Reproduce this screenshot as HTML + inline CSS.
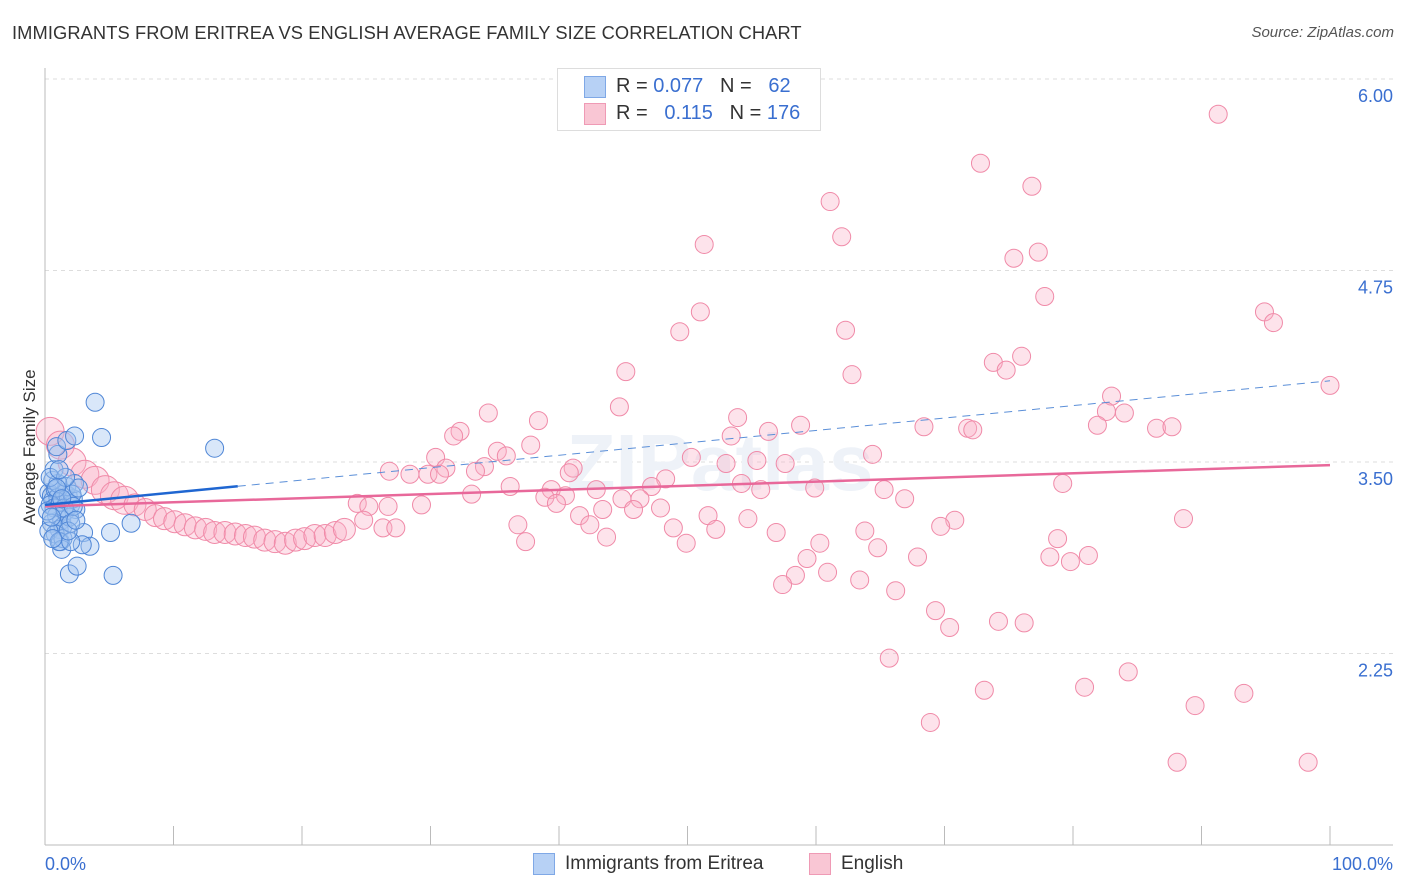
<!DOCTYPE html>
<html><head><meta charset="utf-8"><style>
body{margin:0;background:#fff;font-family:"Liberation Sans",sans-serif}
#wrap{position:relative;width:1406px;height:892px;overflow:hidden}
.t{position:absolute;white-space:nowrap}
</style></head><body>
<div id="wrap">
<div class="t" style="left:12px;top:22px;font-size:18.3px;color:#333;letter-spacing:0.1px">IMMIGRANTS FROM ERITREA VS ENGLISH AVERAGE FAMILY SIZE CORRELATION CHART</div>
<div class="t" style="right:12px;top:24px;font-size:15px;color:#555;font-style:italic">Source: ZipAtlas.com</div>
<div class="t" style="left:-40px;top:445px;width:140px;text-align:center;transform:rotate(-90deg);font-size:17px;color:#333">Average Family Size</div>
<svg id="plot" width="1406" height="892" style="position:absolute;left:0;top:0"></svg>
<div style="position:absolute;left:557px;top:68px;width:262px;height:61px;border:1px solid #ddd;background:#fff;font-size:20px">
 <div style="position:absolute;left:26px;top:7px;width:20px;height:20px;background:#b7d1f5;border:1px solid #7fa8e6"></div>
 <div class="t" style="left:58px;top:6px;color:#333">R = <span style="color:#3a6fd0">0.077</span>&nbsp;&nbsp;&nbsp;N = &nbsp;&nbsp;<span style="color:#3a6fd0">62</span></div>
 <div style="position:absolute;left:26px;top:34px;width:20px;height:20px;background:#f9c6d4;border:1px solid #ef9ab5"></div>
 <div class="t" style="left:58px;top:33px;color:#333">R = &nbsp;&nbsp;<span style="color:#3a6fd0">0.115</span>&nbsp;&nbsp;&nbsp;N = <span style="color:#3a6fd0">176</span></div>
</div>
<div style="position:absolute;left:533px;top:853px;width:20px;height:20px;background:#b7d1f5;border:1px solid #7fa8e6"></div>
<div class="t" style="left:565px;top:853px;font-size:19px;color:#333">Immigrants from Eritrea</div>
<div style="position:absolute;left:809px;top:853px;width:20px;height:20px;background:#f9c6d4;border:1px solid #ef9ab5"></div>
<div class="t" style="left:841px;top:853px;font-size:19px;color:#333">English</div>
</div>
<script>
const yTicks=[2.25,3.5,4.75,6.0];
const yTickLabels=["2.25","3.50","4.75","6.00"];
const xTickLabels=["0.0%","100.0%"];
const blueX=[0.3,0.5,0.6,0.8,1.0,0.4,0.7,1.2,1.5,1.8,2.0,0.9,1.3,1.6,2.2,2.4,0.5,1.1,1.4,0.8,1.7,2.3,0.6,1.0,1.9,0.3,1.2,1.4,2.1,0.7,1.0,0.9,1.7,2.3,4.4,3.9,13.2,5.1,3.0,6.7,5.3,1.9,2.5,3.5,2.9,1.3,1.1,2.0,0.4,1.5,2.0,2.6,1.8,0.2,0.6,2.2,1.6,0.9,1.3,2.4,0.5,1.1];
const blueY=[3.30,3.28,3.25,3.32,3.27,3.22,3.20,3.24,3.30,3.28,3.22,3.15,3.12,3.18,3.26,3.19,3.10,3.06,3.08,3.03,3.34,3.36,3.38,3.36,3.14,3.05,2.98,3.00,3.29,3.45,3.55,3.60,3.64,3.67,3.66,3.89,3.59,3.04,3.04,3.10,2.76,2.77,2.82,2.95,2.96,2.93,2.98,2.98,3.40,3.20,3.10,3.33,3.05,3.18,3.00,3.21,3.40,3.33,3.26,3.12,3.14,3.45];
const pinkDenseX=[0.4,1.2,2.1,3.1,3.9,4.7,5.4,6.2,7.0,7.8,8.6,9.3,10.1,10.9,11.7,12.5,13.2,14.0,14.8,15.6,16.3,17.1,17.9,18.7,19.5,20.2,21.0,21.8,22.6,23.3];
const pinkDenseY=[3.70,3.61,3.50,3.42,3.38,3.32,3.28,3.25,3.22,3.19,3.15,3.13,3.11,3.09,3.07,3.06,3.04,3.04,3.03,3.02,3.01,2.99,2.98,2.97,2.99,3.00,3.02,3.02,3.04,3.06];
const pinkX=[91.3,72.8,76.8,61.1,62.0,51.3,77.3,75.4,77.8,51.0,49.4,62.3,94.9,95.6,73.8,76.0,74.8,62.8,45.2,100,83.0,44.7,82.6,84.0,53.9,34.5,38.4,58.8,68.4,81.9,86.5,87.7,71.8,72.2,32.3,31.8,56.3,53.4,37.8,35.2,35.9,30.4,50.3,64.4,55.4,53.0,57.6,26.8,34.2,33.5,31.2,41.1,40.8,28.4,29.8,30.7,48.3,54.2,79.2,47.2,36.2,39.4,42.9,46.3,55.7,59.9,65.3,33.2,38.9,40.5,44.9,66.9,24.3,25.2,26.7,29.3,39.8,45.8,47.9,43.4,41.6,51.6,54.7,70.8,88.6,24.8,42.4,26.3,27.3,36.8,48.9,52.2,56.9,63.8,69.7,37.4,43.7,49.9,60.3,64.8,78.8,67.9,59.3,78.2,79.8,81.2,58.4,60.9,63.4,57.4,66.2,69.3,70.4,74.2,76.2,65.7,84.3,73.1,80.9,93.3,89.5,68.9,88.1,98.3];
const pinkY=[5.77,5.45,5.30,5.20,4.97,4.92,4.87,4.83,4.58,4.48,4.35,4.36,4.48,4.41,4.15,4.19,4.10,4.07,4.09,4.00,3.93,3.86,3.83,3.82,3.79,3.82,3.77,3.74,3.73,3.74,3.72,3.73,3.72,3.71,3.70,3.67,3.70,3.67,3.61,3.57,3.54,3.53,3.53,3.55,3.51,3.49,3.49,3.44,3.47,3.44,3.46,3.46,3.43,3.42,3.42,3.42,3.39,3.36,3.36,3.34,3.34,3.32,3.32,3.26,3.32,3.33,3.32,3.29,3.27,3.28,3.26,3.26,3.23,3.21,3.21,3.22,3.23,3.19,3.20,3.19,3.15,3.15,3.13,3.12,3.13,3.12,3.09,3.07,3.07,3.09,3.07,3.06,3.04,3.05,3.08,2.98,3.01,2.97,2.97,2.94,3.00,2.88,2.87,2.88,2.85,2.89,2.76,2.78,2.73,2.70,2.66,2.53,2.42,2.46,2.45,2.22,2.13,2.01,2.03,1.99,1.91,1.80,1.54,1.54];
const blueTrend=[3.22,4.03];
const pinkTrend=[3.21,3.48];
const blueSolidEnd=15;

const svg=document.getElementById('plot');
const NS='http://www.w3.org/2000/svg';
const X0=45,X1=1330,Ybase=845,PPU=153.2;
function sx(v){return X0+(X1-X0)*v/100;}
function sy(v){return Ybase-(v-1)*PPU;}
function mk(tag,attrs){const e=document.createElementNS(NS,tag);for(const k in attrs)e.setAttribute(k,attrs[k]);svg.appendChild(e);return e;}
yTicks.forEach((t,i)=>{
 const g=mk('line',{x1:45,x2:1393,y1:sy(t),y2:sy(t),stroke:'#ddd','stroke-dasharray':'4,4'});
 
 
 const tx=mk('text',{x:1393,y:sy(t)+23,'text-anchor':'end','font-size':18,fill:'#3a6fd0','font-family':'Liberation Sans, sans-serif'});
 tx.textContent=yTickLabels[i];
 
 
});
const ax=mk('line',{x1:45,x2:45,y1:68,y2:845,stroke:'#bbb'});


const bx=mk('line',{x1:45,x2:1393,y1:845,y2:845,stroke:'#bbb'});


for(let i=0;i<=10;i++){
 const tk=mk('line',{x1:sx(i*10),x2:sx(i*10),y1:826,y2:845,stroke:'#bbb'});
 
 
}
const xl0=mk('text',{x:45,y:870,'font-size':18,fill:'#3a6fd0','font-family':'Liberation Sans, sans-serif'});
xl0.textContent=xTickLabels[0];


const xl1=mk('text',{x:1393,y:870,'text-anchor':'end','font-size':18,fill:'#3a6fd0','font-family':'Liberation Sans, sans-serif'});
xl1.textContent=xTickLabels[1];


const wm=mk('text',{x:720,y:490,'text-anchor':'middle','font-size':80,fill:'#eef2f8','font-family':'Liberation Sans, sans-serif','font-weight':'bold'});
wm.textContent='ZIPatlas';


pinkX.forEach((v,i)=>{
 const c=mk('circle',{cx:sx(v),cy:sy(pinkY[i]),r:9,fill:'rgba(248,175,198,0.35)',stroke:'#f08aa8','stroke-width':1});
 
 
});
pinkDenseX.forEach((v,i)=>{
 const c=mk('circle',{cx:sx(v),cy:sy(pinkDenseY[i]),r:i<8?14:11,fill:'rgba(248,175,198,0.35)',stroke:'#f08aa8','stroke-width':1});
 
 
});
blueX.forEach((v,i)=>{
 const c=mk('circle',{cx:sx(v),cy:sy(blueY[i]),r:9,fill:'rgba(160,196,240,0.4)',stroke:'#4f86d6','stroke-width':1});
 
 
});
function lerp(a,t){return a[0]+(a[1]-a[0])*t/100;}
const pl=mk('line',{x1:sx(0),y1:sy(pinkTrend[0]),x2:sx(100),y2:sy(pinkTrend[1]),stroke:'#e8689a','stroke-width':2.5});


const bd=mk('line',{x1:sx(blueSolidEnd),y1:sy(lerp(blueTrend,blueSolidEnd)),x2:sx(100),y2:sy(blueTrend[1]),stroke:'#5b8fd8','stroke-width':1,'stroke-dasharray':'8,6'});


const bl=mk('line',{x1:sx(0),y1:sy(blueTrend[0]),x2:sx(blueSolidEnd),y2:sy(lerp(blueTrend,blueSolidEnd)),stroke:'#1f66d1','stroke-width':2.5});


</script>
</body></html>
